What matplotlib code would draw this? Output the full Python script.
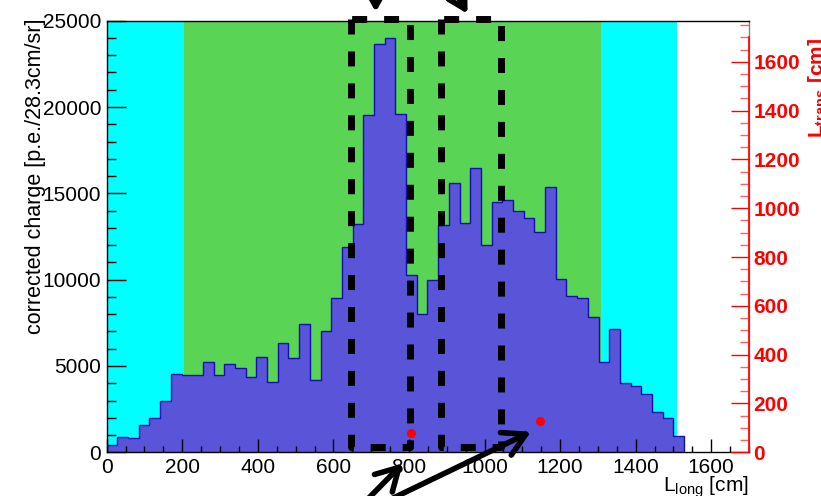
import numpy as np
from matplotlib import pyplot as plt
from matplotlib.ticker import MultipleLocator

plt.rcParams['font.family'] = 'Liberation Sans'
plt.rcParams['mathtext.fontset'] = 'custom'
plt.rcParams['mathtext.rm'] = 'Liberation Sans'
plt.rcParams['mathtext.bf'] = 'Liberation Sans:bold'
plt.rcParams['lines.scale_dashes'] = False

# charge per 28.3 cm slice along the shower axis
bin_width = 28.3
charge = [420, 870, 810, 1580, 1970, 2970, 4530, 4480, 4460, 5210,
          4480, 5100, 4860, 4380, 5540, 4090, 6310, 5460, 7450, 4170,
          7020, 8940, 11900, 13200, 19540, 23630, 23980, 19580, 10270, 8010,
          10000, 13180, 15620, 13300, 16450, 12010, 14520, 14610, 13980, 13550,
          12760, 15350, 10030, 9050, 8920, 7820, 5230, 7120, 4030, 3840,
          3360, 2350, 1970, 960]

# shaded ranges along L_long
cyan_ranges = [(0, 204), (1307, 1510)]
green_range = (204, 1307)

# dashed selection windows (x0, x1) and their vertical extent
windows = [(646, 803), (886, 1043)]
window_y = (300, 25100)

# transverse points (right axis)
pts_long = [806, 1148]
pts_trans = [78, 128]

fig = plt.figure(figsize=(8.21, 4.96), dpi=100)
ax = fig.add_axes([106.7/821, 1-452.3/496, (749-106.7)/821, (452.3-20.7)/496])

for x0, x1 in cyan_ranges:
    ax.axvspan(x0, x1, color='#00ffff', lw=0, zorder=0)
ax.axvspan(green_range[0], green_range[1], color='#59d454', lw=0, zorder=0)

edges = np.arange(len(charge) + 1) * bin_width
ax.stairs(charge, edges, fill=True, color='#5954d8', lw=0, zorder=1)
ax.stairs(charge, edges, fill=False, color='#1010b0', lw=1.0, zorder=1.1)

for x0, x1 in windows:
    y0, y1 = window_y
    ax.plot([x0, x0, x1, x1, x0], [y1, y0, y0, y1, y1], color='black', lw=5,
            dashes=(10.8, 12.2), clip_on=False, zorder=3)

ax.set_xlim(0, 1700)
ax.set_ylim(0, 25000)
ax.xaxis.set_major_locator(MultipleLocator(200))
ax.xaxis.set_minor_locator(MultipleLocator(50))
ax.yaxis.set_major_locator(MultipleLocator(5000))
ax.yaxis.set_minor_locator(MultipleLocator(1000))
ax.tick_params(axis='x', which='major', direction='in', length=9.4, width=1, labelsize=15, pad=4)
ax.tick_params(axis='x', which='minor', direction='in', length=4.3, width=1)
ax.tick_params(axis='y', which='major', direction='in', length=13.7, width=1, labelsize=15, pad=4)
ax.tick_params(axis='y', which='minor', direction='in', length=6.8, width=1)
for s in ax.spines.values():
    s.set_linewidth(1)
ax.spines['right'].set_color('#808080')

# right-hand axis for L_trans
ax2 = ax.twinx()
ax2.set_ylim(0, 1768)
ax2.spines['right'].set_bounds(0, 1700)
ax2.spines['right'].set_color('red')
ax2.spines['right'].set_linewidth(1.2)
for s in ['top', 'left', 'bottom']:
    ax2.spines[s].set_visible(False)
ax2.yaxis.set_major_locator(MultipleLocator(200))
ax2.yaxis.set_minor_locator(MultipleLocator(50))
ax2.set_yticks(np.arange(0, 1601, 200))
ax2.tick_params(axis='y', which='major', direction='in', length=12.7, width=1, color='red',
                labelcolor='red', labelsize=15, pad=3)
ax2.tick_params(axis='y', which='minor', direction='in', length=6.5, width=1, color='#ff6060')
for lab in ax2.get_yticklabels():
    lab.set_fontweight('bold')
ax2.plot(pts_long, pts_trans, 'o', color='red', ms=6.5, mec='none', zorder=5, clip_on=False)

# arrows pointing at the windows and points
arrow = dict(arrowstyle='->,head_length=0.8,head_width=0.45', lw=4, color='black',
             mutation_scale=20, shrinkA=0, shrinkB=0)
ax.annotate('', xy=(712, 25500), xytext=(712, 27400), arrowprops=arrow, annotation_clip=False)
ax.annotate('', xy=(955, 25400), xytext=(903, 27400), arrowprops=arrow, annotation_clip=False)
ax.annotate('', xy=(784, -640), xytext=(660, -3400), arrowprops=arrow, annotation_clip=False)
ax.annotate('', xy=(1123, 1190), xytext=(687, -3400), arrowprops=arrow, annotation_clip=False)

fig.text(40.7/821, 1-18.3/496, 'corrected charge [p.e./28.3cm/sr]', rotation=90,
         rotation_mode='anchor', ha='right', va='baseline', fontsize=15.5)
fig.text(749/821, 1-491/496, r'L$_{\rm long}$ [cm]', ha='right', va='baseline', fontsize=15)
fig.text(822.8/821, 1-38/496, r'$\mathbf{L}_{\mathbf{trans}}$ [cm]', rotation=90,
         rotation_mode='anchor', ha='right', va='baseline', fontsize=15, color='red',
         fontweight='bold')

fig.savefig('out.png', dpi=100)
